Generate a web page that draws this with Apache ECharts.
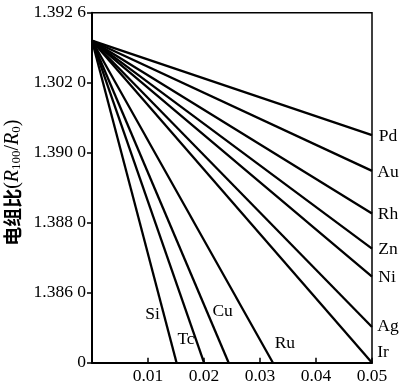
<!DOCTYPE html>
<html>
<head>
<meta charset="utf-8">
<script src="https://cdn.jsdelivr.net/npm/echarts@6/dist/echarts.min.js"></script>
<style>html,body{margin:0;padding:0;background:#fff}#c{width:408px;height:387px}</style>
</head>
<body>
<div id="c"></div>
<script>
// Data
const startPoint = [0, 4.6];
const bottomNames = ['Si', 'Tc', 'Cu', 'Ru', 'Ir'];
const bottomEndX = [0.0151, 0.0200, 0.0244, 0.0323, 0.05];
const rightNames = ['Pd', 'Au', 'Rh', 'Zn', 'Ni', 'Ag'];
const rightEndY = [3.25, 2.74, 2.13, 1.63, 1.23, 0.51];
const yTickLabels = ['0', '1.386 0', '1.388 0', '1.390 0', '1.302 0', '1.392 6'];
const xTicks = [0.01, 0.02, 0.03, 0.04, 0.05];

// label offsets (style only)
const labelOffsets = {
  Si: [-24, -48], Tc: [-18, -23], Cu: [-6, -51], Ru: [12, -19], Ir: [11, -10],
  Pd: [16, 1], Au: [16, 2], Rh: [16, 1], Zn: [16, 1], Ni: [15, 1], Ag: [16, -1]
};

const serif = 'Liberation Serif';
const FS = 17.5;
const series = [];
function mk(name, endPt) {
  series.push({
    name: name, type: 'line', symbol: 'none', silent: true,
    data: [startPoint, endPt],
    lineStyle: { color: '#000', width: 2.3 },
    endLabel: {
      show: true, formatter: name, distance: 0, align: 'center', verticalAlign: 'middle',
      offset: labelOffsets[name], color: '#000', fontFamily: serif, fontSize: FS
    }
  });
}
rightNames.forEach((n, i) => mk(n, [0.05, rightEndY[i]]));
bottomNames.forEach((n, i) => mk(n, [bottomEndX[i], 0]));

const chart = echarts.init(document.getElementById('c'), null, { renderer: 'canvas' });
chart.setOption({
  animation: false,
  backgroundColor: '#fff',
  grid: { left: 92, right: 36, top: 12.7, bottom: 24.3, containLabel: false, outerBoundsMode: 'none',
          show: true, borderColor: '#000', borderWidth: 1.5, backgroundColor: 'transparent' },
  xAxis: {
    type: 'value', min: 0, max: 0.05, interval: 0.01,
    axisLine: { lineStyle: { color: '#000', width: 2 } },
    axisTick: { inside: true, length: 5, lineStyle: { color: '#000', width: 1.5 } },
    splitLine: { show: false },
    axisLabel: {
      color: '#000', fontFamily: serif, fontSize: FS, margin: 5,
      formatter: v => { const s = xTicks.find(t => Math.abs(t - v) < 1e-9); return s === undefined ? '' : s.toFixed(2); }
    }
  },
  yAxis: {
    type: 'value', min: 0, max: 5, interval: 1,
    axisLine: { show: true, lineStyle: { color: '#000', width: 2 } },
    axisTick: { show: true, inside: false, length: 5, lineStyle: { color: '#000', width: 1.5 } },
    splitLine: { show: false },
    axisLabel: {
      color: '#000', fontFamily: serif, fontSize: FS, margin: 6,
      formatter: v => yTickLabels[Math.round(v)]
    },
    name: '{c|电组比}{a|(}{i|R}{s|100}{a|/}{i|R}{s|0}{a|)}',
    nameLocation: 'middle', nameGap: 62, nameRotate: 90,
    nameTextStyle: {
      padding: [0, 0, 0, 10],
      rich: {
        c: { fontFamily: 'Noto Sans CJK SC', fontWeight: 'bold', fontSize: 19, color: '#000' },
        a: { fontFamily: serif, fontSize: 20, color: '#000' },
        i: { fontFamily: serif, fontStyle: 'italic', fontSize: 20, color: '#000' },
        s: { fontFamily: serif, fontSize: 13, color: '#000', verticalAlign: 'bottom', padding: [7, 0, 0, 0] }
      }
    }
  },
  series: series
});
</script>
</body>
</html>
